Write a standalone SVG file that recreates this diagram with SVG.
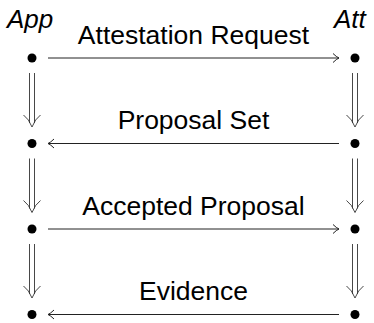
<svg xmlns="http://www.w3.org/2000/svg" width="374" height="323" viewBox="0 0 374 323">
  <style>
    .lbl { font-family: "Liberation Sans", Arial, sans-serif; font-size: 26.5px; fill: #000; }
    .role { font-family: "Liberation Sans", Arial, sans-serif; font-size: 26px; font-style: italic; fill: #000; }
    .msg { fill: none; stroke: #222; stroke-width: 1; }
    .dbl { fill: none; stroke: #333; stroke-width: 0.9; }
    .dot { fill: #000; }
  </style>
  <defs>
    <marker id="head" viewBox="-8 -6 10 12" refX="0" refY="0" markerWidth="10" markerHeight="12" markerUnits="userSpaceOnUse" orient="auto">
      <path d="M -6 -4.5 Q -2.5 -1 0 0 Q -2.5 1 -6 4.5" fill="none" stroke="#222" stroke-width="1"/>
    </marker>
    <!-- double-shafted downward arrow, drawn with its tip at the origin -->
    <g id="implies">
      <path class="dbl" d="M -2.5 -54 V -4 M 2.5 -54 V -4"/>
      <path class="dbl" d="M -8.5 -12 Q -3 -8 0 0 Q 3 -8 8.5 -12"/>
    </g>
  </defs>

  <!-- lifeline heads -->
  <g id="app-head"><text class="role" x="7" y="28">App</text></g>
  <g id="att-head"><text class="role" x="334" y="28">Att</text></g>

  <!-- lifeline points -->
  <g id="app-1"><circle class="dot" cx="32" cy="58" r="4.5"/></g>
  <g id="app-2"><circle class="dot" cx="32" cy="143.5" r="4.5"/></g>
  <g id="app-3"><circle class="dot" cx="32" cy="229" r="4.5"/></g>
  <g id="app-4"><circle class="dot" cx="32" cy="314.5" r="4.5"/></g>
  <g id="att-1"><circle class="dot" cx="355" cy="58" r="4.5"/></g>
  <g id="att-2"><circle class="dot" cx="355" cy="143.5" r="4.5"/></g>
  <g id="att-3"><circle class="dot" cx="355" cy="229" r="4.5"/></g>
  <g id="att-4"><circle class="dot" cx="355" cy="314.5" r="4.5"/></g>

  <g id="connectors">
    <!-- messages -->
    <line class="msg" x1="48" y1="58" x2="339" y2="58" marker-end="url(#head)"/>
    <text class="lbl" x="193.5" y="43.5" text-anchor="middle">Attestation Request</text>

    <line class="msg" x1="339" y1="143.5" x2="48" y2="143.5" marker-end="url(#head)"/>
    <text class="lbl" x="193.5" y="129" text-anchor="middle">Proposal Set</text>

    <line class="msg" x1="48" y1="229" x2="339" y2="229" marker-end="url(#head)"/>
    <text class="lbl" x="193.5" y="214.5" text-anchor="middle">Accepted Proposal</text>

    <line class="msg" x1="339" y1="314.5" x2="48" y2="314.5" marker-end="url(#head)"/>
    <text class="lbl" x="193.5" y="300" text-anchor="middle">Evidence</text>

    <!-- time progression on each lifeline -->
    <use href="#implies" x="32" y="127"/>
    <use href="#implies" x="32" y="212.5"/>
    <use href="#implies" x="32" y="298"/>
    <use href="#implies" x="355" y="127"/>
    <use href="#implies" x="355" y="212.5"/>
    <use href="#implies" x="355" y="298"/>
  </g>
</svg>
